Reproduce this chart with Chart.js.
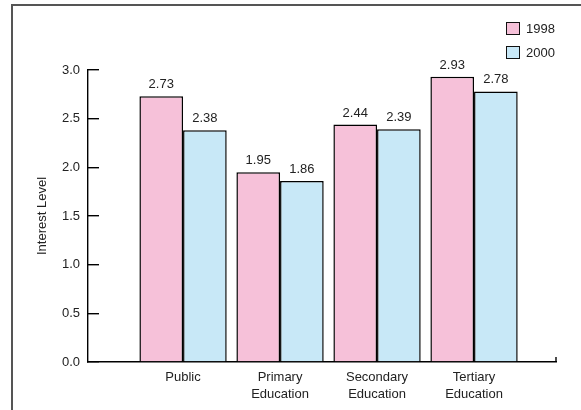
<!DOCTYPE html>
<html>
<head>
<meta charset="utf-8">
<script src="https://cdn.jsdelivr.net/npm/chart.js@4/dist/chart.umd.min.js"></script>
<style>
  html, body { margin: 0; padding: 0; background: #fff; }
  #wrap { position: relative; width: 581px; height: 410px; }
  #frame {
    position: absolute; left: 11px; top: 4px; right: 0; bottom: 0;
    border-left: 2px solid #555; border-top: 2px solid #555;
    pointer-events: none;
  }
  #legend {
    position: absolute; left: 506px; top: 21px;
    font: 13px "Liberation Sans", Arial, sans-serif; color: #222;
  }
  #legend .item { display: flex; align-items: center; height: 14px; margin-bottom: 10px; }
  #legend .box { width: 12px; height: 11px; border: 1px solid #111; margin-right: 6px; }
</style>
</head>
<body>
<div id="wrap">
  <canvas id="chart" width="581" height="410"></canvas>
  <div id="frame"></div>
  <div id="legend"></div>
</div>
<script>
// chart data
const categories = [["Public"], ["Primary", "Education"], ["Secondary", "Education"], ["Tertiary", "Education"]];
const seriesNames = ["1998", "2000"];
const values1998 = [2.73, 1.95, 2.44, 2.93];
const values2000 = [2.38, 1.86, 2.39, 2.78];
const yTicks = [0, 0.5, 1.0, 1.5, 2.0, 2.5, 3.0];

const pink = "#f6c1d9";
const blue = "#c8e8f7";
const fontFamily = '"Liberation Sans", Arial, sans-serif';

Chart.defaults.font.family = fontFamily;
Chart.defaults.font.size = 13;
Chart.defaults.color = "#222";

// labels above each bar
const valueLabels = {
  id: "valueLabels",
  afterDatasetsDraw(chart) {
    const ctx = chart.ctx;
    ctx.save();
    ctx.font = "13px " + fontFamily;
    ctx.fillStyle = "#222";
    ctx.textAlign = "center";
    ctx.textBaseline = "alphabetic";
    chart.data.datasets.forEach((ds, i) => {
      chart.getDatasetMeta(i).data.forEach((bar, j) => {
        ctx.fillText(ds.data[j].y.toFixed(2), bar.x, bar.y - 8);
      });
    });
    ctx.restore();
  }
};

// little upward tick at the right end of the x axis
const axisEnd = {
  id: "axisEnd",
  afterDraw(chart) {
    const x = chart.scales.x;
    const ctx = chart.ctx;
    ctx.save();
    ctx.strokeStyle = "#000";
    ctx.lineWidth = 1.4;
    ctx.beginPath();
    ctx.moveTo(x.right, x.top);
    ctx.lineTo(x.right, x.top - 5);
    ctx.stroke();
    ctx.restore();
  }
};

// html legend built from the chart's own legend items
const htmlLegend = {
  id: "htmlLegend",
  afterUpdate(chart) {
    const el = document.getElementById("legend");
    el.innerHTML = "";
    chart.options.plugins.legend.labels.generateLabels(chart).forEach(item => {
      const row = document.createElement("div");
      row.className = "item";
      const box = document.createElement("span");
      box.className = "box";
      box.style.background = item.fillStyle;
      row.appendChild(box);
      row.appendChild(document.createTextNode(item.text));
      el.appendChild(row);
    });
  }
};

const toPoints = vals => vals.map((v, i) => ({ x: i + 1, y: v }));

new Chart(document.getElementById("chart"), {
  type: "bar",
  data: {
    datasets: [
      {
        label: seriesNames[0],
        data: toPoints(values1998),
        backgroundColor: pink,
        borderColor: "#000",
        borderWidth: 1.5
      },
      {
        label: seriesNames[1],
        data: toPoints(values2000),
        backgroundColor: blue,
        borderColor: "#000",
        borderWidth: 1.5
      }
    ]
  },
  options: {
    responsive: false,
    animation: false,
    categoryPercentage: 0.9,
    barPercentage: 1,
    layout: { padding: { left: 30, top: 70, right: 25, bottom: 0 } },
    plugins: {
      legend: { display: false },
      tooltip: { enabled: false }
    },
    scales: {
      x: {
        type: "linear",
        offset: false,
        min: 0.02,
        max: categories.length + 0.845,
        afterBuildTicks: axis => {
          axis.ticks = categories.map((c, i) => ({ value: i + 1 }));
        },
        afterFit: axis => { axis.height = 48; },
        grid: { display: false, drawTicks: false, offset: false },
        border: { display: true, color: "#000", width: 1.4 },
        ticks: {
          padding: 7,
          maxRotation: 0,
          autoSkip: false,
          font: { size: 13, lineHeight: 1.3 },
          callback: v => categories[v - 1] || ""
        }
      },
      y: {
        min: 0,
        max: 3,
        afterBuildTicks: axis => {
          axis.ticks = yTicks.map(v => ({ value: v }));
        },
        afterFit: axis => { axis.width = 58; },
        grid: { drawOnChartArea: false, tickLength: -11, color: "#000", lineWidth: 1.4 },
        border: { display: true, color: "#000", width: 1.4 },
        ticks: {
          padding: 19,
          callback: v => v.toFixed(1)
        },
        title: {
          display: true,
          text: "Interest Level",
          font: { size: 13 },
          padding: { top: 5, bottom: 0 }
        }
      }
    }
  },
  plugins: [valueLabels, axisEnd, htmlLegend]
});
</script>
</body>
</html>
